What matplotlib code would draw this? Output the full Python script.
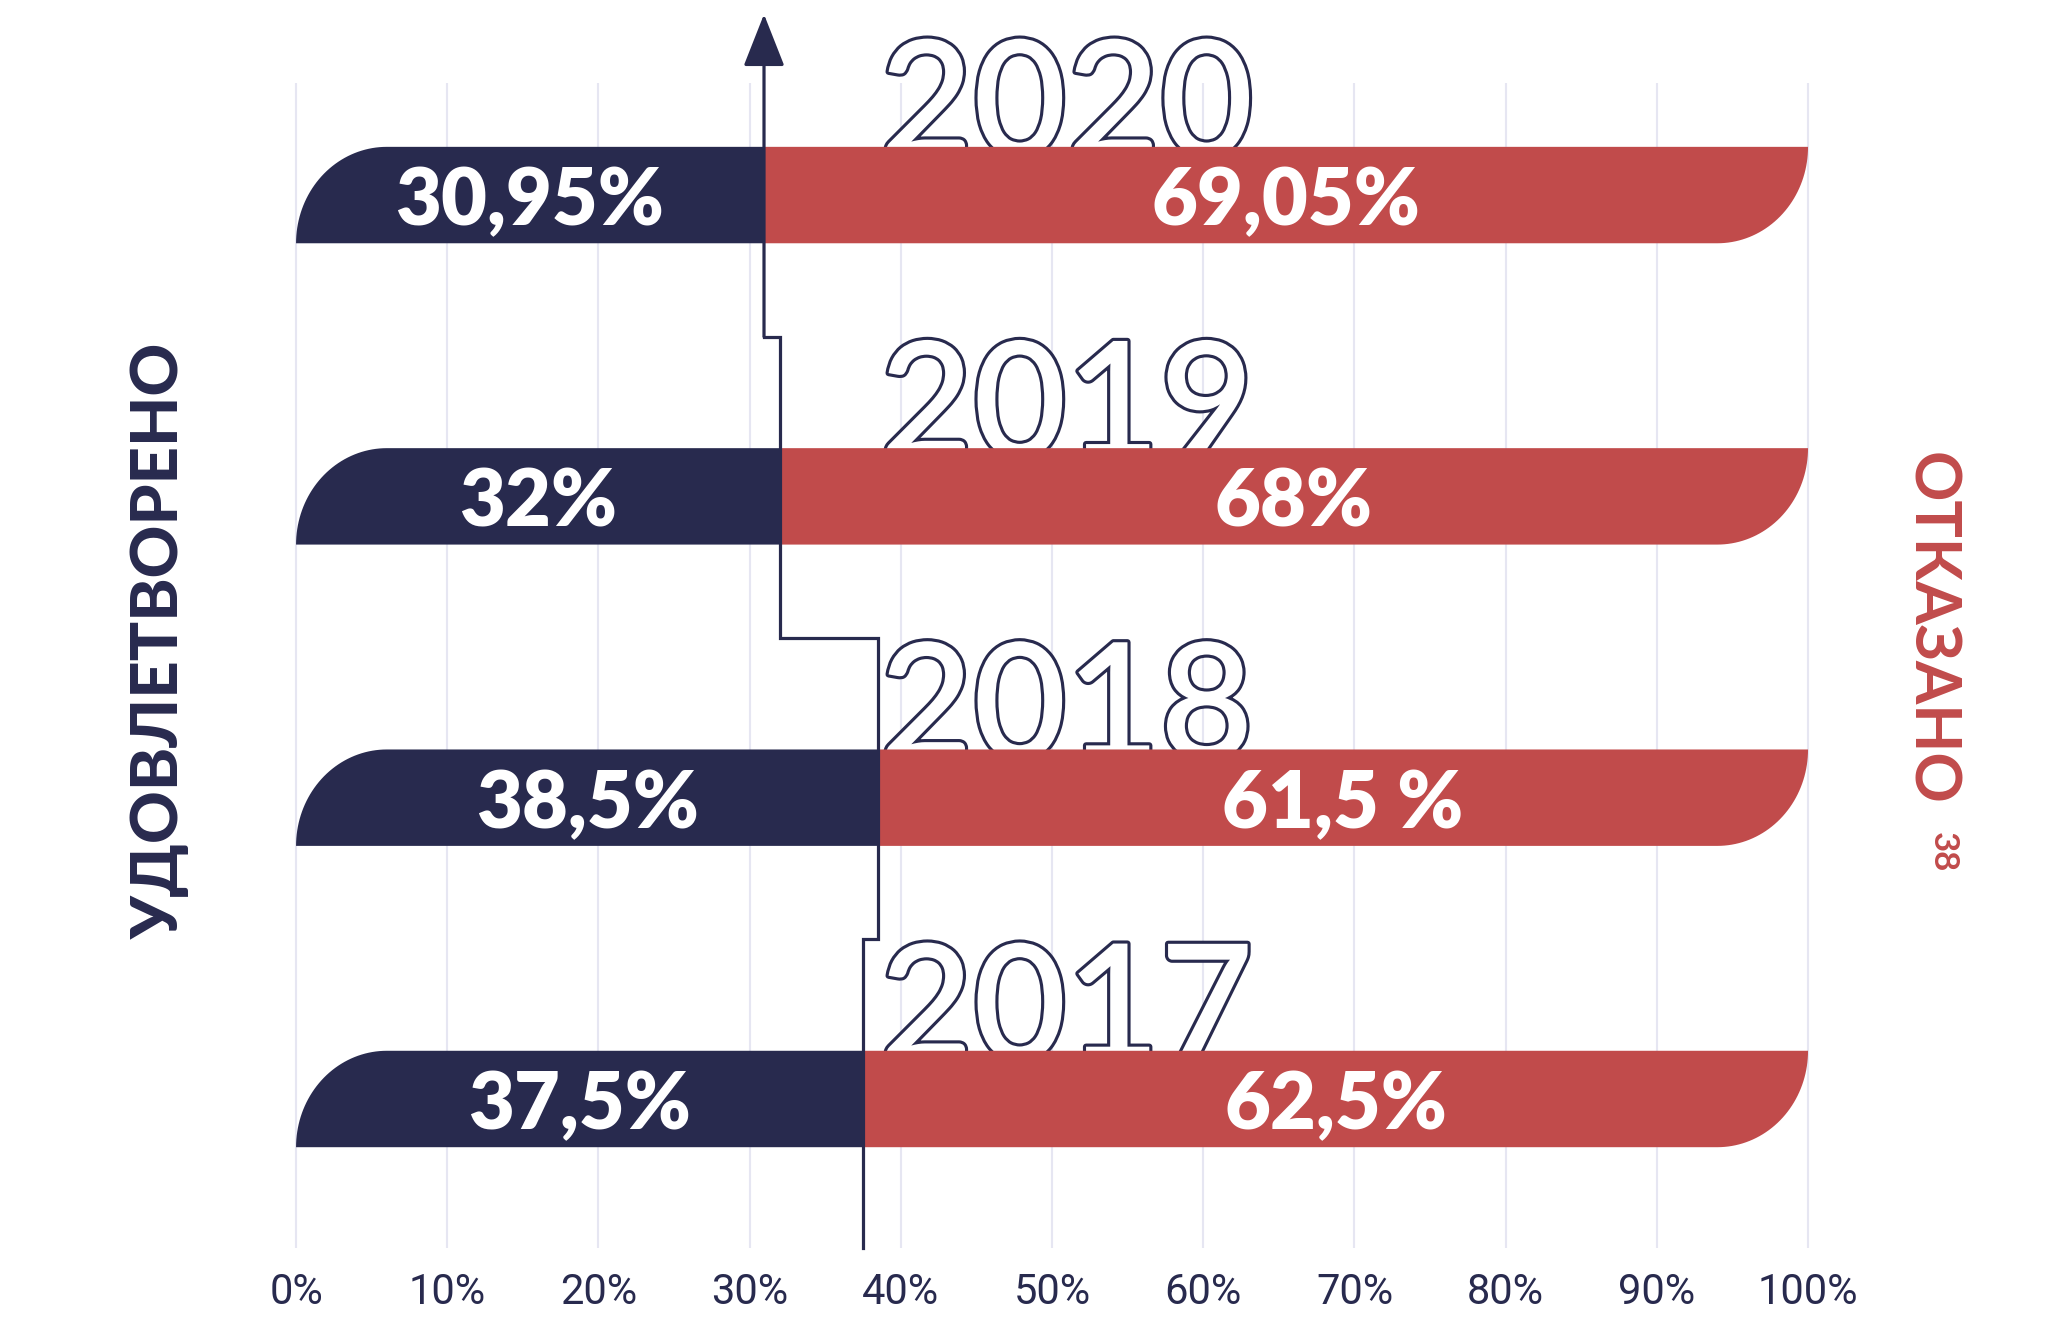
import numpy as np
import matplotlib
matplotlib.use("Agg")
import matplotlib.pyplot as plt
import matplotlib.patheffects as pe
from matplotlib.patches import Polygon

# data (bottom to top)
years = ['2017', '2018', '2019', '2020']
satisfied = [37.5, 38.5, 32, 30.95]
refused = [62.5, 61.5, 68, 69.05]
satisfied_labels = ['37,5%', '38,5%', '32%', '30,95%']
refused_labels = ['62,5%', '61,5 %', '68%', '69,05%']
tick_values = [0, 10, 20, 30, 40, 50, 60, 70, 80, 90, 100]
tick_labels = [f'{t}%' for t in tick_values]

navy = '#282a4e'
red = '#c14b4b'
grid_color = '#e6e6f2'

bar_h = 0.32
rx = 6  # corner radius along x (data units)

fig = plt.figure(figsize=(20.56, 13.17), dpi=100)
ax = fig.add_axes([0, 0.0524, 1, 0.8846])
ax.set_xlim(-19.58, 116.4)
ax.set_ylim(-0.4945, 3.372)

theta = np.linspace(0, np.pi / 2, 40)
for i, (s, r) in enumerate(zip(satisfied, refused)):
    bot, top = i - bar_h / 2, i + bar_h / 2
    # left piece, rounded top-left corner
    lx = rx - rx * np.cos(theta)
    ly = bot + bar_h * np.sin(theta)
    left = np.column_stack([np.r_[lx, s, s], np.r_[ly, top, bot]])
    ax.add_patch(Polygon(left, closed=True, fc=navy, ec='none', zorder=3))
    # right piece, rounded bottom-right corner
    end = s + r
    rxx = end - rx + rx * np.cos(theta)
    ryy = top - bar_h * np.sin(theta)
    right = np.column_stack([np.r_[s, s, rxx], np.r_[bot, top, ryy]])
    ax.add_patch(Polygon(right, closed=True, fc=red, ec='none', zorder=3))

    ax.text(s / 2, i, satisfied_labels[i], ha='center', va='center_baseline',
            color='white', fontsize=57, fontweight='heavy', family='Lato', zorder=5)
    ax.text(s + r / 2, i, refused_labels[i], ha='center', va='center_baseline',
            color='white', fontsize=57, fontweight='heavy', family='Lato', zorder=5)

    # outlined year behind the bar
    ax.text(38.6, top - 0.03, years[i], ha='left', va='baseline', color='white',
            fontsize=116, fontweight='semibold', family='Lato', zorder=1,
            path_effects=[pe.Stroke(linewidth=4.5, foreground=navy), pe.Normal()])

# step line following the "satisfied" share
xs, ys = [satisfied[0]], [-0.4945]
for i in range(1, len(satisfied)):
    xs += [satisfied[i - 1], satisfied[i]]
    ys += [i - 0.47, i - 0.47]
ax.plot(xs, ys, color=navy, lw=2.3, zorder=4, clip_on=False, solid_joinstyle='miter')
ax.annotate('', xy=(satisfied[-1], 3.6), xytext=(satisfied[-1], ys[-1]),
            annotation_clip=False, zorder=4,
            arrowprops=dict(arrowstyle='-|>,head_length=33,head_width=13',
                            mutation_scale=1, color=navy, lw=2.3,
                            shrinkA=0, shrinkB=0))

# axes styling
ax.set_xticks(tick_values)
ax.set_xticklabels(tick_labels, family=['Liberation Sans Narrow', 'Roboto'],
                   fontsize=30, color=navy)
ax.set_yticks([])
ax.grid(axis='x', color=grid_color, lw=1.5)
ax.set_axisbelow(True)
ax.tick_params(axis='x', length=0, pad=17)
for sp in ax.spines.values():
    sp.set_visible(False)

# side titles
ax.text(-9.0, 1.52, 'УДОВЛЕТВОРЕНО', rotation=90, ha='center', va='center',
        color=navy, fontsize=47, fontweight='black', family='Lato', clip_on=False)
ax.text(108.1, 2.147, 'ОТКАЗАНО', rotation=-90, ha='center', va='top',
        color=red, fontsize=45, fontweight='bold', family='Lato', clip_on=False)
ax.text(108.9, 0.886, '38', rotation=-90, ha='center', va='top',
        color=red, fontsize=25, fontweight='bold', family='Lato', clip_on=False)

fig.savefig('out.png', dpi=100)
